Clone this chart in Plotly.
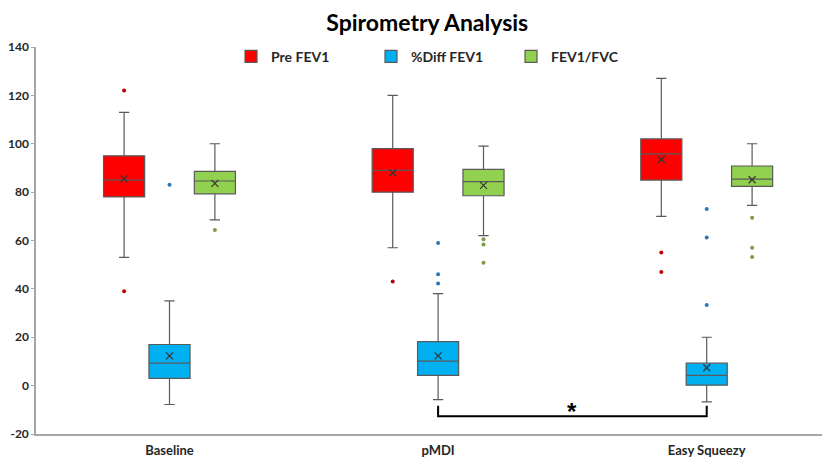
import plotly.graph_objects as go

# ---------------- data ----------------
categories = ["Baseline", "pMDI", "Easy Squeezy"]
series_names = ["Pre FEV1", "%Diff FEV1", "FEV1/FVC"]

pre_q1 = [78, 80, 85]
pre_median = [85, 89, 95.8]
pre_q3 = [95, 98, 102]
pre_lower = [53, 57, 70]
pre_upper = [113, 120, 127]
pre_mean = [85.5, 88, 93.5]
pre_outliers = [[122, 39], [43], [55, 47]]

diff_q1 = [3, 4.2, 0.2]
diff_median = [9.3, 10.1, 4.2]
diff_q3 = [17, 18.2, 9.3]
diff_lower = [-7.8, -5.8, -6.7]
diff_upper = [35, 38, 20]
diff_mean = [12.3, 12.3, 7.4]
diff_outliers = [[83], [59, 46, 42.2], [73, 61.2, 33.3]]

ratio_q1 = [79.3, 78.5, 82.4]
ratio_median = [84.6, 84.3, 85.4]
ratio_q3 = [88.6, 89.4, 90.8]
ratio_lower = [68.5, 62, 74.5]
ratio_upper = [100, 99, 100]
ratio_mean = [83.6, 82.8, 85.1]
ratio_outliers = [[64.3], [60.5, 58.3, 50.8], [69.4, 57, 53.2]]

y_ticks = [-20, 0, 20, 40, 60, 80, 100, 120, 140]

# significance bracket between %Diff FEV1 of pMDI and Easy Squeezy
sig_from, sig_to = 1, 2
sig_label = "*"

# ---------------- style ----------------
fills = ["#FF0000", "#00B0F0", "#92D050"]
outlier_colors = ["#C00000", "#2E75B6", "#7A9A45"]
offsets = [-0.169, 0.0, 0.169]
box_width = 0.153
FONT = "Lato"

stats = [
    (pre_q1, pre_median, pre_q3, pre_lower, pre_upper, pre_mean, pre_outliers),
    (diff_q1, diff_median, diff_q3, diff_lower, diff_upper, diff_mean, diff_outliers),
    (ratio_q1, ratio_median, ratio_q3, ratio_lower, ratio_upper, ratio_mean, ratio_outliers),
]

fig = go.Figure()
for k, (q1, med, q3, lo, hi, mean, outs) in enumerate(stats):
    xs = [i + offsets[k] for i in range(len(categories))]
    fig.add_trace(go.Box(
        x=xs, q1=q1, median=med, q3=q3, lowerfence=lo, upperfence=hi,
        name=f"<b>{series_names[k]}</b>", fillcolor=fills[k],
        line=dict(color="#5a5a5a", width=1.2),
        width=box_width, whiskerwidth=0.25, boxpoints=False,
        showlegend=True, legendrank=k,
    ))
    ox, oy = [], []
    for i, lst in enumerate(outs):
        for v in lst:
            ox.append(xs[i])
            oy.append(v)
    fig.add_trace(go.Scatter(
        x=ox, y=oy, mode="markers", showlegend=False,
        marker=dict(color=outlier_colors[k], size=4),
    ))
    fig.add_trace(go.Scatter(
        x=xs, y=mean, mode="markers", showlegend=False,
        marker=dict(symbol="x-thin", size=7, line=dict(color="#333333", width=1.2)),
    ))

# bracket
fig.add_shape(type="path",
              path=f"M {sig_from},-8.3 L {sig_from},-12.7 L {sig_to},-12.7 L {sig_to},-8.3",
              line=dict(color="black", width=2), xref="x", yref="y")
fig.add_annotation(x=(sig_from + sig_to) / 2, y=-10.5, text=f"<b>{sig_label}</b>",
                   showarrow=False, font=dict(size=24, color="black", family="Liberation Sans"),
                   yanchor="middle")

# page body has an 8px margin, so the figure is sized/offset to compensate
fig.update_layout(
    width=822, height=452,
    margin=dict(l=28, r=0, t=39, b=26),
    paper_bgcolor="white", plot_bgcolor="white",
    font=dict(family=FONT, color="#262626"),
    title=dict(text="<b>Spirometry Analysis</b>", x=0.51, xanchor="center",
               y=0.968, yanchor="middle", font=dict(size=23, color="black", family=FONT)),
    legend=dict(orientation="h", x=0.2456, xanchor="left", y=0.975, yanchor="middle",
                bgcolor="rgba(0,0,0,0)", font=dict(size=14, color="#262626", family=FONT),
                entrywidth=95, entrywidthmode="pixels"),
    xaxis=dict(range=[-0.497, 2.459], tickvals=list(range(len(categories))),
               ticktext=[f"<b>{c}</b>" for c in categories], showgrid=False,
               zeroline=False, showline=True, linecolor="#a6a6a6", linewidth=1.5,
               ticks="", tickfont=dict(size=13, color="#262626"), ticklabelstandoff=4),
    yaxis=dict(range=[-20, 140], tickvals=y_ticks, ticktext=[f"<b>{t}</b>" for t in y_ticks],
               showgrid=False, zeroline=False, showline=True, linecolor="#a6a6a6",
               linewidth=1.5, ticks="outside", ticklen=3, tickcolor="#a6a6a6",
               tickfont=dict(size=12, color="#262626")),
    showlegend=True,
)

fig.write_html("out.html")
